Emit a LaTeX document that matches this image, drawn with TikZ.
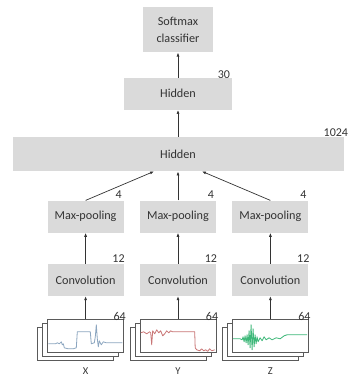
\documentclass[tikz,border=0pt]{standalone}
\usepackage{fontspec}
\setmainfont{Carlito}
\usetikzlibrary{positioning,shadows,arrows.meta}

\definecolor{boxgray}{HTML}{DADADA}
\definecolor{inkgray}{HTML}{333333}
\definecolor{framegray}{HTML}{5A5A5A}
\definecolor{sigblue}{HTML}{8CA6C0}
\definecolor{sigred}{HTML}{C97676}
\definecolor{siggreen}{HTML}{3CB878}

\begin{document}
\begin{tikzpicture}[x=1pt, y=1pt, node distance=16pt,
    layer/.style={fill=boxgray, text=inkgray, minimum width=76pt, minimum height=32pt,
                  inner sep=0pt, font=\fontsize{12.2}{14}\selectfont},
    size/.style={text=inkgray, inner sep=0pt, anchor=south east, font=\fontsize{12}{14}\selectfont},
    axis name/.style={text=inkgray, inner sep=0pt, font=\fontsize{10.5}{12}\selectfont},
    signal box/.style={draw=framegray, fill=white, line width=0.6pt, minimum width=76pt,
                       minimum height=33pt, inner sep=0pt,
                       copy shadow={shadow xshift=-10pt, shadow yshift=-8pt, draw=framegray, fill=white, line width=0.6pt},
                       copy shadow={shadow xshift=-5pt, shadow yshift=-4pt, draw=framegray, fill=white, line width=0.6pt}},
    flow/.style={-{Latex[length=4pt,width=3pt]}, draw=inkgray, line width=0.7pt},
    trace/.style={line width=0.8pt, line join=round}]

    \useasboundingbox (0,0) rectangle (348,376);

    % convolution row
    \node[layer] (conv2) at (178,96)         {Convolution};
    \node[layer] (conv1) [left=of conv2]     {Convolution};
    \node[layer] (conv3) [right=of conv2]    {Convolution};

    % pooling row
    \node[layer] (pool1) [above=31pt of conv1] {Max-pooling};
    \node[layer] (pool2) [above=31pt of conv2] {Max-pooling};
    \node[layer] (pool3) [above=31pt of conv3] {Max-pooling};

    % dense part
    \node[layer, minimum width=331pt, minimum height=34pt] (hid1) [above=29pt of pool2] {Hidden};
    \node[layer, minimum width=108pt] (hid2) [above=27pt of hid1] {Hidden};
    \node[layer, minimum width=70pt, minimum height=45pt, align=center,
          font=\fontsize{12.2}{16.5}\selectfont] (soft) [above=25pt of hid2] {Softmax\\classifier};

    % input signals
    \node[signal box] (sig1) [below=23pt of conv1] {};
    \node[signal box] (sig2) [below=23pt of conv2] {};
    \node[signal box] (sig3) [below=23pt of conv3] {};
    \node[axis name] (namex) [below=15pt of sig1] {X};
    \node[axis name] (namey) [below=15pt of sig2] {Y};
    \node[axis name] (namez) [below=15pt of sig3] {Z};

    \begin{scope}[shift={(sig1.south west)}]
      \draw[trace, sigblue] plot coordinates {(1,9) (8,9) (10,10) (12,9) (14,11) (15,8) (16,9) (17,5)
        (21,4) (26,4) (29,5) (30,21) (43,21) (44,9) (47,10) (48,16) (49,28) (50,14) (51,6)
        (52,12) (54,8) (56,11) (59,10) (75,10)};
    \end{scope}
    \begin{scope}[shift={(sig2.south west)}]
      \draw[trace, sigred] plot coordinates {(1,20) (4,21) (7,19) (10,21) (11,20) (12,8) (13,22)
        (15,19) (17,23) (19,20) (21,22) (23,17) (25,19) (27,22) (29,20) (31,22) (33,21) (55,21)
        (55.5,5) (57,3) (60,2) (62,4) (64,2) (66,3) (68,1.5) (70,4) (72,2) (75,3)};
    \end{scope}
    \begin{scope}[shift={(sig3.south west)}]
      \draw[trace, siggreen] plot coordinates {(1,14) (8,14) (10,13) (11,16) (12,11) (13,17) (14,10)
        (15,18) (16,8) (17,22) (18,5) (19,28) (20,3) (21,24) (22,6) (23,18) (24,9) (25,16)
        (26,11) (28,15) (30,12) (32,16) (34,13) (37,15) (40,13) (44,15) (48,14) (52,17)
        (55,18) (75,18)};
    \end{scope}

    % sizes
    \node[size] (n64a) at ([xshift=2pt, yshift=-2pt]sig1.north east) {64};
    \node[size] (n64b) at ([xshift=2pt, yshift=-2pt]sig2.north east) {64};
    \node[size] (n64c) at ([xshift=2pt, yshift=-2pt]sig3.north east) {64};
    \node[size] (n12a) at ([xshift=1pt, yshift=1pt]conv1.north east) {12};
    \node[size] (n12b) at ([xshift=1pt, yshift=1pt]conv2.north east) {12};
    \node[size] (n12c) at ([xshift=1pt, yshift=1pt]conv3.north east) {12};
    \node[size] (n4a) at ([xshift=-2pt, yshift=2pt]pool1.north east) {4};
    \node[size] (n4b) at ([xshift=-2pt, yshift=2pt]pool2.north east) {4};
    \node[size] (n4c) at ([xshift=-2pt, yshift=2pt]pool3.north east) {4};
    \node[size] (n1024) at ([xshift=4.5pt]hid1.north east) {1024};
    \node[size] (n30) at ([xshift=-2pt, yshift=-1pt]hid2.north east) {30};

    % connections
    \draw[flow] (sig1) -- (conv1);
    \draw[flow] (sig2) -- (conv2);
    \draw[flow] (sig3) -- (conv3);
    \draw[flow] (conv1) -- (pool1);
    \draw[flow] (conv2) -- (pool2);
    \draw[flow] (conv3) -- (pool3);
    \draw[flow] (pool1.north) -- ([xshift=-24pt]hid1.south);
    \draw[flow] (pool2.north) -- (hid1.south);
    \draw[flow] (pool3.north) -- ([xshift=24pt]hid1.south);
    \draw[flow] (hid1) -- (hid2);
    \draw[flow] (hid2) -- (soft);
\end{tikzpicture}
\end{document}
